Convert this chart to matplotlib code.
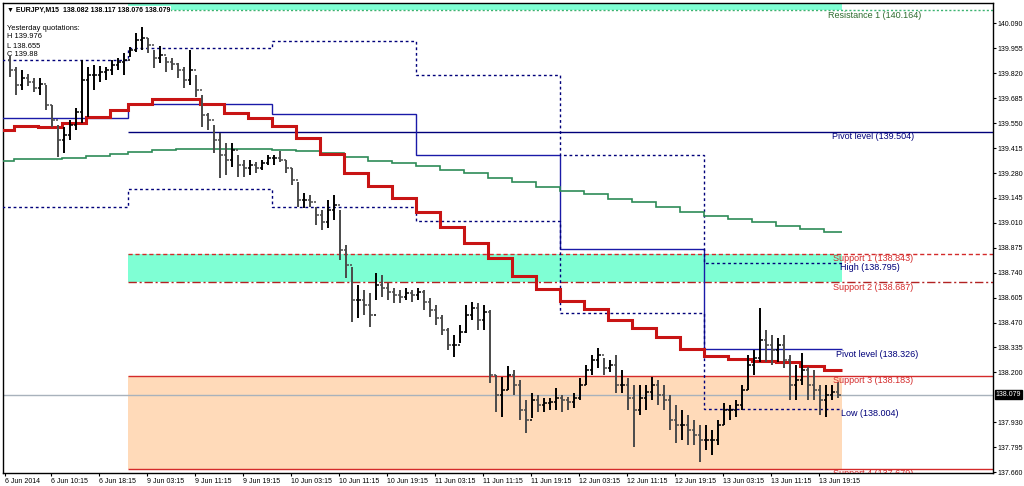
import matplotlib
matplotlib.use("Agg")
import matplotlib.pyplot as plt
import numpy as np

# EURJPY price, one bar per hour, per trading day
fri6_high = [139.914, 139.854, 139.838, 139.816, 139.794, 139.794, 139.757, 139.648, 139.540, 139.529,
             139.567, 139.632, 139.892, 139.854, 139.865, 139.859, 139.854, 139.892, 139.903, 139.930]
fri6_low = [139.800, 139.702, 139.729, 139.751, 139.719, 139.702, 139.621, 139.529, 139.366, 139.388,
            139.459, 139.513, 139.551, 139.583, 139.729, 139.773, 139.784, 139.811, 139.838, 139.811]
fri6_close = [139.838, 139.757, 139.794, 139.773, 139.740, 139.762, 139.648, 139.567, 139.459, 139.486,
              139.540, 139.610, 139.784, 139.811, 139.811, 139.827, 139.838, 139.865, 139.881, 139.892]

mon_high = [139.962, 140.038, 140.071, 140.011, 139.946, 139.968, 139.908, 139.903, 139.876, 139.854, 139.946, 139.811,
            139.702, 139.605, 139.540, 139.496, 139.442, 139.442, 139.377, 139.350, 139.350, 139.339, 139.350, 139.377]
mon_low = [139.908, 139.935, 139.946, 139.930, 139.849, 139.876, 139.827, 139.838, 139.794, 139.740, 139.757, 139.692,
           139.529, 139.513, 139.388, 139.253, 139.269, 139.312, 139.258, 139.258, 139.269, 139.280, 139.296, 139.323]
mon_close = [139.946, 140.000, 140.011, 139.973, 139.903, 139.919, 139.881, 139.870, 139.838, 139.784, 139.838, 139.729,
             139.594, 139.567, 139.459, 139.377, 139.350, 139.404, 139.323, 139.307, 139.323, 139.307, 139.334, 139.361]

tue_high = [139.377, 139.399, 139.350, 139.307, 139.231, 139.171, 139.161, 139.096, 139.079, 139.134, 139.161, 139.079,
            138.890, 138.771, 138.673, 138.646, 138.630, 138.738, 138.727, 138.684, 138.657, 138.646, 138.657, 138.646]
tue_low = [139.323, 139.339, 139.280, 139.215, 139.096, 139.090, 139.096, 138.998, 138.971, 138.982, 139.025, 138.809,
           138.711, 138.473, 138.494, 138.511, 138.446, 138.592, 138.608, 138.592, 138.576, 138.576, 138.592, 138.581]
tue_close = [139.361, 139.350, 139.307, 139.242, 139.134, 139.134, 139.123, 139.052, 139.014, 139.079, 139.107, 138.863,
             138.781, 138.592, 138.592, 138.565, 138.511, 138.673, 138.657, 138.635, 138.619, 138.608, 138.630, 138.619]

wed_high = [138.657, 138.646, 138.603, 138.565, 138.511, 138.440, 138.402, 138.457, 138.565, 138.581, 138.576, 138.565,
            138.538, 138.186, 138.175, 138.234, 138.213, 138.159, 138.050, 138.088, 138.077, 138.061, 138.061, 138.115]
wed_low = [138.592, 138.538, 138.500, 138.457, 138.402, 138.321, 138.283, 138.359, 138.413, 138.484, 138.429, 138.429,
           138.142, 137.985, 137.958, 138.104, 138.077, 137.942, 137.871, 137.953, 137.985, 137.985, 137.996, 137.996]
wed_close = [138.635, 138.581, 138.538, 138.494, 138.429, 138.348, 138.348, 138.419, 138.511, 138.549, 138.484, 138.527,
             138.186, 138.077, 138.104, 138.186, 138.131, 137.996, 137.942, 138.050, 138.023, 138.034, 138.039, 138.061]

thu_high = [138.077, 138.066, 138.088, 138.169, 138.240, 138.294, 138.332, 138.278, 138.267, 138.294, 138.213, 138.169,
            138.131, 138.131, 138.131, 138.175, 138.159, 138.131, 138.077, 138.023, 137.996, 137.969, 137.942, 137.915]
thu_low = [137.985, 137.996, 138.007, 138.050, 138.131, 138.186, 138.224, 138.186, 138.202, 138.088, 138.088, 137.996,
           137.796, 137.969, 137.996, 138.050, 138.023, 137.996, 137.888, 137.817, 137.834, 137.806, 137.806, 137.714]
thu_close = [138.050, 138.039, 138.061, 138.131, 138.213, 138.267, 138.294, 138.224, 138.240, 138.131, 138.131, 138.061,
             137.996, 138.061, 138.094, 138.131, 138.077, 138.050, 137.942, 137.915, 137.915, 137.888, 137.861, 137.834]

fri13_high = [137.915, 137.888, 137.942, 138.034, 138.023, 138.050, 138.131, 138.294, 138.321, 138.549, 138.429, 138.402,
              138.386, 138.402, 138.294, 138.240, 138.305, 138.229, 138.213, 138.131, 138.131, 138.131, 138.148]
fri13_low = [137.779, 137.752, 137.806, 137.915, 137.942, 137.958, 137.996, 138.104, 138.186, 138.256, 138.256, 138.240,
             138.256, 138.224, 138.050, 138.050, 138.131, 138.050, 138.050, 137.969, 137.958, 138.050, 138.061]
fri13_close = [137.834, 137.834, 137.915, 137.996, 137.996, 138.023, 138.104, 138.240, 138.278, 138.375, 138.348, 138.321,
               138.348, 138.267, 138.131, 138.159, 138.213, 138.131, 138.104, 138.050, 138.077, 138.094, 138.079]
first_open = 139.892

# daily levels (step lines), edges are M15 bar numbers
day_edges = [-2, 82, 178, 274, 370, 466, 558]
pivot_daily = [139.578, 139.654, 139.599, 139.377, 138.868, 138.326]
prev_high = [139.892, 139.957, 139.995, 139.811, 139.377, 138.795]
prev_low = [139.096, 139.193, 139.096, 139.020, 138.521, 138.004]

# 4-hour step averages
h4_edges = [-2, 6, 22, 38, 54, 70] + list(range(82, 547, 16)) + [558]
red_ma = [139.513, 139.536, 139.531, 139.552, 139.585, 139.621,
          139.654, 139.681, 139.683, 139.652, 139.606, 139.580,
          139.534, 139.471, 139.383, 139.281, 139.209, 139.143,
          139.067, 138.989, 138.902, 138.817, 138.722, 138.650,
          138.586, 138.543, 138.483, 138.442, 138.393, 138.325,
          138.288, 138.275, 138.264, 138.258, 138.234, 138.213]
green_ma = [139.345, 139.354, 139.354, 139.361, 139.372, 139.383,
            139.395, 139.404, 139.411, 139.410, 139.410, 139.410,
            139.406, 139.400, 139.386, 139.365, 139.345, 139.334,
            139.319, 139.298, 139.278, 139.254, 139.229, 139.206,
            139.181, 139.166, 139.139, 139.121, 139.094, 139.070,
            139.047, 139.031, 139.016, 138.994, 138.978, 138.959]

# weekly levels
resistance1 = 140.164
pivot_week = 139.504
support1 = 138.843
support2 = 138.687
support3 = 138.183
support4 = 137.679
last_price = 138.079

xtick_pos = [0, 31, 63, 95, 127, 159, 191, 223, 255, 287, 319, 351, 383, 415, 447, 479, 511, 543]
xtick_labels = ["6 Jun 2014", "6 Jun 10:15", "6 Jun 18:15", "9 Jun 03:15", "9 Jun 11:15", "9 Jun 19:15",
                "10 Jun 03:15", "10 Jun 11:15", "10 Jun 19:15", "11 Jun 03:15", "11 Jun 11:15", "11 Jun 19:15",
                "12 Jun 03:15", "12 Jun 11:15", "12 Jun 19:15", "13 Jun 03:15", "13 Jun 11:15", "13 Jun 19:15"]
ytick_vals = [140.090, 139.955, 139.820, 139.685, 139.550, 139.415, 139.280, 139.145, 139.010, 138.875,
              138.740, 138.605, 138.470, 138.335, 138.200, 137.930, 137.795, 137.660]

NAVY = "#00007a"
RED = "#d42a2a"
FONT = ["Liberation Sans", "DejaVu Sans"]

high = np.array(fri6_high + mon_high + tue_high + wed_high + thu_high + fri13_high)
low = np.array(fri6_low + mon_low + tue_low + wed_low + thu_low + fri13_low)
close = np.array(fri6_close + mon_close + tue_close + wed_close + thu_close + fri13_close)
opens = np.r_[first_open, close[:-1]]
xs = 3.5 + 4 * np.arange(len(high))

fig = plt.figure(figsize=(10.24, 4.86), dpi=100)
ax = fig.add_axes([3 / 1024, 13 / 486, 990 / 1024, 470 / 486])
ax.set_xlim(-1.33, 658.7)
ax.set_ylim(137.655, 140.201)

week_start, week_end = day_edges[1], day_edges[-1]

# zones
ax.fill_between([week_start, week_end], support2, support1, color="#7fffd4", lw=0, zorder=0)
ax.fill_between([week_start, week_end], support4, support3, color="#ffdab9", lw=0, zorder=0)
ax.fill_between([week_start, week_end], resistance1, 140.30, color="#7fffd4", lw=0, zorder=0)

# weekly level lines
right = 660
ax.hlines(resistance1, week_start, right, color="#3cb371", lw=1, linestyles=(0, (1.5, 1.5)), zorder=2)
ax.hlines(pivot_week, week_start, right, color=NAVY, lw=1, zorder=2)
ax.hlines(support1, week_start, right, color=RED, lw=1, linestyles=(0, (3, 2)), zorder=2)
ax.hlines(support2, week_start, right, color="#b22222", lw=1, linestyles=(0, (6, 2, 1.5, 2)), zorder=2)
ax.hlines(support3, week_start, right, color=RED, lw=1, zorder=2)
ax.hlines(support4, week_start, right, color=RED, lw=1, zorder=2)
ax.axhline(last_price, color="#a8b2bc", lw=1, zorder=1)

# daily pivot / previous high-low
ax.stairs(pivot_daily, day_edges, baseline=None, color="#1a1aa8", lw=1, zorder=3)
ax.stairs(prev_high, day_edges, baseline=None, color=NAVY, lw=1, linestyle=(0, (2, 2)), zorder=3)
ax.stairs(prev_low, day_edges, baseline=None, color=NAVY, lw=1, linestyle=(0, (2, 2)), zorder=3)

# averages
ax.stairs(green_ma, h4_edges, baseline=None, color="#2e8b57", lw=1.2, zorder=3)
ax.stairs(red_ma, h4_edges, baseline=None, color="#c81414", lw=2.2, zorder=3)

# price bars
bar_col = np.where(close >= opens, "black", "#4a4a4a")
ax.vlines(xs, low, high, colors=bar_col, lw=1.4, zorder=4)
ax.hlines(opens, xs - 1.7, xs, colors=bar_col, lw=1.1, zorder=4)
ax.hlines(close, xs, xs + 1.7, colors=bar_col, lw=1.1, zorder=4)

# object labels
labels = [
    (548.7, resistance1, "Resistance 1 (140.164)", "#2e6b2e"),
    (551.3, pivot_week, "Pivot level (139.504)", NAVY),
    (552, support1, "Support 1 (138.843)", RED),
    (556.7, prev_high[-1], "High (138.795)", NAVY),
    (552, support2, "Support 2 (138.687)", RED),
    (554, pivot_daily[-1], "Pivot level (138.326)", NAVY),
    (552, support3, "Support 3 (138.183)", RED),
    (557.3, prev_low[-1], "Low (138.004)", NAVY),
    (552, support4, "Support 4 (137.679)", RED),
]
for x, y, s, c in labels:
    ax.text(x, y - 0.004, s, color=c, fontsize=6.5, family=FONT, va="top", ha="left", zorder=6, clip_on=True)

# axes styling
for sp in ax.spines.values():
    sp.set_color("black")
    sp.set_linewidth(1)
ax.yaxis.tick_right()
ax.set_yticks(ytick_vals)
ax.set_yticklabels([f"{v:.3f}" for v in ytick_vals])
ax.set_xticks(xtick_pos)
ax.set_xticklabels(xtick_labels)
ax.tick_params(axis="both", direction="out", length=2.5, width=0.8, labelsize=5, pad=1)
for lab in ax.get_xticklabels():
    lab.set_ha("left")
    lab.set_family(FONT)
for lab in ax.get_yticklabels():
    lab.set_family(FONT)

# current price tag
ax.annotate(f"{last_price:.3f}", xy=(1.0, last_price), xycoords=("axes fraction", "data"),
            xytext=(2, 0), textcoords="offset points", va="center", ha="left",
            fontsize=5, family=FONT, color="white",
            bbox=dict(boxstyle="square,pad=0.15", fc="black", ec="black"), annotation_clip=False)

# header
fig.text(7 / 1024, 1 - 10 / 486, "\u25bc EURJPY,M15  138.082 138.117 138.076 138.079", fontsize=5.0,
         family=FONT, fontweight="bold", va="center", ha="left",
         bbox=dict(boxstyle="square,pad=0.1", fc="white", ec="none"), zorder=10)
info = ["Yesterday quotations:", "H 139.976", "L 138.655", "C 139.88"]
for n, s in enumerate(info):
    fig.text(7 / 1024, 1 - (28 + 9 * n) / 486, s, fontsize=5.4, family=FONT, va="center", ha="left")

fig.savefig("out.png", dpi=100)
